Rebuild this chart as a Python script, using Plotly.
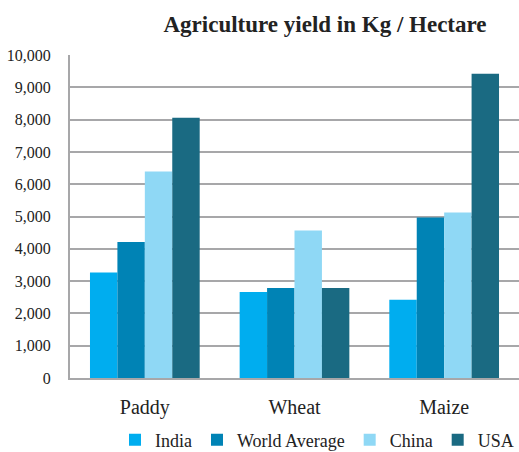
import plotly.graph_objects as go

categories = ["Paddy", "Wheat", "Maize"]
india = [3270, 2660, 2420]
world_average = [4210, 2790, 4970]
china = [6390, 4570, 5120]
usa = [8060, 2790, 9420]
y_ticks = [0, 1000, 2000, 3000, 4000, 5000, 6000, 7000, 8000, 9000, 10000]
y_tick_labels = ["0", "1,000", "2,000", "3,000", "4,000", "5,000", "6,000",
                 "7,000", "8,000", "9,000", "10,000"]

series = [
    ("India", india, "#00ADEF"),
    ("World Average", world_average, "#0083B5"),
    ("China", china, "#8FD8F5"),
    ("USA", usa, "#1A6A82"),
]

FONT = "Liberation Serif"
GRID = "#A7A7A9"
TXT = "#222222"

fig = go.Figure()
for name, vals, col in series:
    fig.add_trace(go.Bar(
        x=categories, y=vals, name=name,
        marker=dict(color=col, line=dict(width=0)),
    ))

fig.update_layout(
    width=519, height=452,
    margin=dict(l=70, r=0, t=55, b=74, autoexpand=False),
    paper_bgcolor="white", plot_bgcolor="white",
    barmode="group", bargap=0.267, bargroupgap=0,
    font=dict(family=FONT, color=TXT),
    title=dict(
        text="<b>Agriculture yield in Kg / Hectare</b>",
        font=dict(family=FONT, size=23, color=TXT),
        x=325 / 519, xanchor="center", xref="container",
        y=1 - 24 / 452, yanchor="middle", yref="container",
    ),
    xaxis=dict(
        showgrid=False, showline=True, linecolor=GRID, linewidth=2,
        ticks="", tickfont=dict(family=FONT, size=20, color=TXT),
        ticklabelstandoff=10,
    ),
    yaxis=dict(
        range=[0, 10000], tickvals=y_ticks, ticktext=y_tick_labels,
        showgrid=True, gridcolor=GRID, gridwidth=1.5,
        showline=True, linecolor=GRID, linewidth=2,
        zeroline=False, ticks="",
        tickfont=dict(family=FONT, size=16, color=TXT),
        ticklabelstandoff=14,
    ),
    showlegend=True,
    legend=dict(
        orientation="h", x=1.0, xanchor="right",
        y=1 - 440 / 452, yanchor="middle", yref="container",
        font=dict(family=FONT, size=18, color=TXT),
        itemwidth=30, traceorder="normal",
    ),
)

fig.write_html("out.html")
